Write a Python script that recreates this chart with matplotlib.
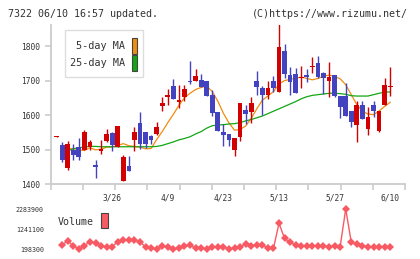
import numpy as np
import matplotlib.pyplot as plt
from matplotlib.patches import Rectangle

# DATA
opens = [1535, 1512, 1446, 1500, 1506, 1500, 1506, 1455, 1497, 1524,
         1548, 1507, 1408, 1452, 1527, 1578, 1551, 1538, 1546, 1626,
         1651, 1683, 1638, 1652, 1700, 1699, 1702, 1699, 1657, 1608,
         1552, 1544, 1498, 1536, 1616, 1610, 1700, 1677, 1658, 1700,
         1666, 1787, 1715, 1720, 1707, 1717, 1738, 1752, 1721, 1698,
         1715, 1654, 1655, 1611, 1571, 1630, 1559, 1630, 1553, 1629, 1681]
highs = [1539, 1523, 1526, 1515, 1534, 1558, 1529, 1469, 1529, 1560,
         1551, 1567, 1483, 1481, 1566, 1610, 1551, 1543, 1581, 1653,
         1674, 1705, 1687, 1686, 1758, 1732, 1720, 1699, 1672, 1608,
         1573, 1544, 1533, 1636, 1628, 1652, 1729, 1685, 1700, 1713,
         1863, 1805, 1739, 1736, 1741, 1732, 1768, 1772, 1724, 1754,
         1715, 1654, 1694, 1611, 1642, 1640, 1623, 1640, 1611, 1706, 1740]
lows = [1535, 1463, 1440, 1469, 1469, 1498, 1498, 1417, 1486, 1521,
        1495, 1506, 1408, 1437, 1495, 1502, 1504, 1517, 1543, 1611,
        1629, 1646, 1620, 1640, 1690, 1699, 1681, 1656, 1597, 1553,
        1510, 1510, 1481, 1524, 1574, 1576, 1657, 1601, 1645, 1666,
        1666, 1706, 1658, 1664, 1679, 1695, 1722, 1707, 1662, 1652,
        1652, 1590, 1597, 1566, 1521, 1589, 1543, 1594, 1551, 1629, 1655]
closes = [1539, 1469, 1517, 1484, 1478, 1552, 1523, 1450, 1499, 1545,
          1513, 1567, 1477, 1437, 1551, 1516, 1516, 1527, 1564, 1636,
          1658, 1646, 1643, 1674, 1695, 1714, 1681, 1656, 1606, 1553,
          1541, 1527, 1533, 1636, 1604, 1636, 1681, 1658, 1677, 1677,
          1796, 1718, 1695, 1665, 1711, 1711, 1740, 1711, 1707, 1710,
          1654, 1622, 1597, 1579, 1628, 1589, 1593, 1611, 1611, 1686, 1683]

# 5-day MA starts at day 2, 25-day MA at day 1
ma5 = [1502, 1503, 1499, 1497, 1505, 1499, 1501, 1507, 1507, 1512,
       1517, 1511, 1509, 1507, 1502, 1503, 1529, 1552, 1578, 1602,
       1628, 1650, 1663, 1674, 1680, 1684, 1668, 1640, 1605, 1577,
       1556, 1558, 1568, 1590, 1618, 1643, 1655, 1668, 1690, 1700,
       1703, 1707, 1710, 1706, 1702, 1706, 1712, 1716, 1712, 1705,
       1688, 1659, 1630, 1611, 1603, 1601, 1612, 1625, 1637]
ma25 = [1488, 1496, 1502, 1505, 1507, 1509, 1509, 1508, 1508, 1508,
        1508, 1508, 1508, 1508, 1508, 1508, 1508, 1509, 1512, 1517,
        1522, 1528, 1532, 1537, 1545, 1552, 1562, 1569, 1571, 1572,
        1574, 1575, 1578, 1583, 1587, 1592, 1597, 1604, 1611, 1618,
        1625, 1632, 1639, 1647, 1653, 1657, 1659, 1661, 1663, 1663,
        1662, 1660, 1656, 1655, 1655, 1655, 1659, 1663, 1666, 1667]

# volume from day 1 onward
volume = [406900, 632800, 354700, 215700, 372100, 580700, 493800, 337300, 320000, 320000,
          580700, 667600, 667600, 667600, 563300, 320000, 233100, 198300, 372100, 320000,
          198300, 233100, 354700, 406900, 233100, 233100, 198300, 320000, 285200, 320000,
          198300, 233100, 320000, 441600, 354700, 406900, 406900, 233100, 233100, 1536600,
          754500, 545900, 406900, 354700, 354700, 354700, 354700, 354700, 320000, 354700,
          320000, 2283900, 545900, 441600, 372100, 320000, 320000, 320000, 320000, 285200]

date_labels = ["3/26", "4/9", "4/23", "5/13", "5/27", "6/10"]
date_idx = [10, 20, 30, 40, 50, 60]
price_ticks = [1400, 1500, 1600, 1700, 1800]
vol_ticks = [198300, 1241100, 2283900]

# STYLE
RED = "#d20000"
BLUE = "#4343c0"
ORANGE = "#f08c10"
GREEN = "#12a612"
VOLC = "#f85a64"
GRAY = "#cccccc"
TXT = "#333333"
plt.rcParams['font.family'] = ['DejaVu Sans Mono']

W, H = 420, 259
fig = plt.figure(figsize=(W / 100, H / 100), dpi=100)

def fx(px):
    return px / W

def fy(py):
    return 1 - py / H

# MAIN PRICE AXES
ax = fig.add_axes([fx(50.7), fy(184), fx(405) - fx(50.7), fy(25) - fy(184)])
n = len(closes)
x = np.arange(n)
o = np.array(opens)
c = np.array(closes)
up = c >= o
cols = np.where(up, RED, BLUE)

ax.plot(np.arange(2, 2 + len(ma5)), ma5, color=ORANGE, lw=0.9, zorder=1)
ax.plot(np.arange(1, 1 + len(ma25)), ma25, color=GREEN, lw=0.9, zorder=1)

ax.vlines(x, lows, highs, colors=cols, lw=1.0, zorder=2)
body = np.maximum(np.abs(c - o), 4)
ax.bar(x, body, bottom=np.minimum(o, c), width=0.85, color=cols, zorder=3)

ax.set_xlim(-1.06, 62.66)
ax.set_ylim(1400, 1861)
for s in ["top", "right"]:
    ax.spines[s].set_visible(False)
for s in ["left", "bottom"]:
    ax.spines[s].set_color(GRAY)
    ax.spines[s].set_linewidth(1.3)

ax.set_yticks(price_ticks)
ax.tick_params(axis="y", length=4, width=1.2, color=GRAY, pad=4,
               labelsize=5.7, labelcolor=TXT)
ax.set_xticks(date_idx)
ax.set_xticklabels(date_labels)
ax.tick_params(axis="x", which="major", length=0, pad=7, labelsize=5.7, labelcolor=TXT)
ax.set_xticks(np.linspace(-1.06, 62.66, 12), minor=True)
ax.tick_params(axis="x", which="minor", length=4, width=1.2, color=GRAY)

# legend box
fig.add_artist(Rectangle((fx(65), fy(77)), fx(143) - fx(65), fy(30) - fy(77),
                         transform=fig.transFigure, facecolor="white",
                         edgecolor="#dddddd", lw=1.0, zorder=5))
fig.text(fx(125), fy(46), "5-day MA", ha="right", va="center", fontsize=7.3,
         color=TXT, zorder=6)
fig.text(fx(125), fy(63), "25-day MA", ha="right", va="center", fontsize=7.3,
         color=TXT, zorder=6)
fig.add_artist(Rectangle((fx(131.7), fy(54)), fx(5.6), fy(0) - fy(16),
                         transform=fig.transFigure, facecolor=ORANGE,
                         edgecolor="#444444", lw=0.8, zorder=6))
fig.add_artist(Rectangle((fx(131.7), fy(71)), fx(5.6), fy(0) - fy(16),
                         transform=fig.transFigure, facecolor=GREEN,
                         edgecolor="#444444", lw=0.8, zorder=6))

# VOLUME AXES
vax = fig.add_axes([fx(50.7), fy(255), fx(405) - fx(50.7), fy(203) - fy(255)])
vax.plot(np.arange(1, 1 + len(volume)), volume, color=VOLC, lw=1.0,
         marker="D", markersize=4.2, markeredgewidth=0)
vax.set_xlim(-1.06, 62.66)
vax.set_ylim(-114540, 2596740)
for s in vax.spines.values():
    s.set_visible(False)
vax.set_xticks([])
vax.set_yticks(vol_ticks)
vax.set_yticklabels([str(v) for v in vol_ticks])
vax.tick_params(axis="y", length=0, pad=5, labelsize=4.8, labelcolor=TXT)
vax.patch.set_alpha(0)

fig.text(fx(58), fy(222), "Volume", ha="left", va="center", fontsize=7.2, color=TXT)
fig.add_artist(Rectangle((fx(101), fy(228)), fx(7), fy(0) - fy(15),
                         transform=fig.transFigure, facecolor=VOLC,
                         edgecolor="#444444", lw=0.8))

# HEADER
fig.text(fx(8), fy(14), "7322 06/10 16:57 updated.", ha="left", va="center",
         fontsize=7.2, color=TXT)
fig.text(fx(408), fy(14), "(C)https://www.rizumu.net/", ha="right", va="center",
         fontsize=7.2, color=TXT)

fig.savefig("out.png", dpi=100)
